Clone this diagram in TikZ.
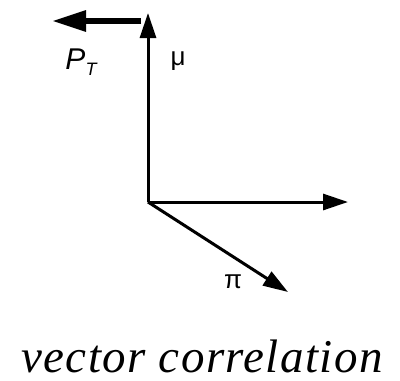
\documentclass[tikz,border=0pt]{standalone}
\usepackage{fontspec}
\usetikzlibrary{arrows.meta,positioning}
\newfontfamily\vecfont{Liberation Sans}
\newfontfamily\titlefont[LetterSpace=3]{Liberation Serif}

\begin{document}
\begin{tikzpicture}[x=1pt, y=-1pt,
  vec/.style={line width=3pt, -{Triangle[length=25pt, width=16pt]}},
  pvec/.style={line width=6pt, -{Triangle[length=34pt, width=20pt]}},
  lab/.style={font=\vecfont\fontsize{26}{28}\selectfont, inner sep=0pt}]
\useasboundingbox (0,0) rectangle (400,381);
\coordinate (o) at (148,202);
\coordinate (mu) at (148,13);
\coordinate (ptstart) at (141,21);
\coordinate (pt) at (52,21);
\coordinate (x) at (348,202);
\coordinate (pi) at (288,292);
% vectors
\draw[vec] (o) -- (mu);
\draw[vec] (o) -- (x);
\draw[vec] (o) -- (pi);
\draw[pvec] (ptstart) -- (pt);
% labels
\node[lab] (mulab) at (178,61) {μ};
\node[lab, font=\vecfont\fontsize{30}{32}\selectfont] (ptlab) at (81,62) {\itshape P\raisebox{-0.4ex}{\fontsize{18}{20}\selectfont T}};
\node[lab] (pilab) at (233,282) {π};
\node[font=\titlefont\itshape\fontsize{47}{50}\selectfont, inner sep=0pt] (title) at (202,356) {vector correlation};
\end{tikzpicture}
\end{document}
